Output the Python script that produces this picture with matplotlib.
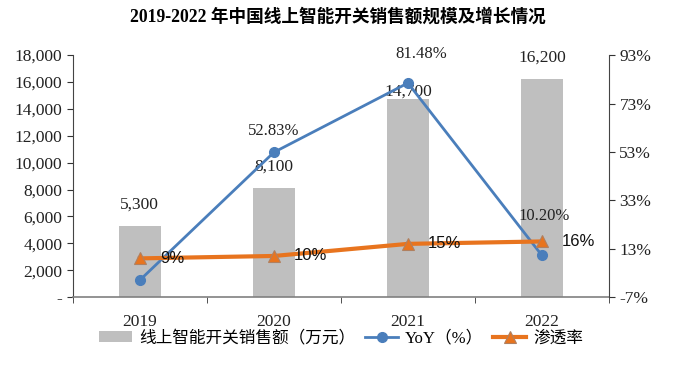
import matplotlib.pyplot as plt
import matplotlib.ticker as mticker
from matplotlib.lines import Line2D
from matplotlib.patches import Patch

years = ['2019', '2020', '2021', '2022']
sales = [5300, 8100, 14700, 16200]          # 线上智能开关销售额（万元）
yoy = [0.0, 52.83, 81.48, 10.20]            # YoY (%)
yoy_labels = ['', '52.83%', '81.48%', '10.20%']
penetration = [9, 10, 15, 16]               # 渗透率 (%)

# label placement tweaks (data units)
sales_lift = [1000, 1000, 0, 1000]
yoy_lift = [0, 5.4, 8.7, 13.2]
yoy_shift = [0, 0, 0.1, 0.02]

serif = ['Liberation Serif', 'Noto Sans CJK SC']
bar_color = '#bfbfbf'
blue = '#4a7ebb'
orange = '#e8741e'

fig = plt.figure(figsize=(7, 3.65), dpi=100)
ax = fig.add_axes((0.104, 0.186, 0.766, 0.663))
x = list(range(len(years)))

ax.bar(x, sales, width=0.31, color=bar_color, zorder=1)
for xi, v, d in zip(x, sales, sales_lift):
    ax.text(xi, v + d, f'{v:,}', ha='center', va='bottom', fontsize=12.5,
            family=serif, color='#222222')

ax.set_xlim(-0.5, 3.5)
ax.set_ylim(0, 18000)
ax.yaxis.set_major_locator(mticker.MultipleLocator(2000))
ax.yaxis.set_major_formatter(mticker.FuncFormatter(lambda v, p: '-' if v == 0 else f'{int(v):,}'))
ax.set_xticks(x)
ax.set_xticklabels(years)
ax.set_xticks([-0.5, 0.5, 1.5, 2.5, 3.5], minor=True)
ax.tick_params(axis='x', which='major', length=0, pad=12)
ax.tick_params(axis='x', which='minor', length=4, color='#333333')
ax.tick_params(axis='y', length=4, color='#333333')
for lab in ax.get_xticklabels() + ax.get_yticklabels():
    lab.set_family(serif)
    lab.set_fontsize(12.5)
    lab.set_color('#222222')
ax.spines['top'].set_visible(False)
ax.spines['right'].set_visible(False)
ax.spines['bottom'].set_color('#808080')
ax.spines['bottom'].set_linewidth(1.2)
ax.spines['left'].set_color('#444444')

ax2 = ax.twinx()
ax2.set_ylim(-7, 93)
ax2.yaxis.set_major_locator(mticker.FixedLocator([-7, 13, 33, 53, 73, 93]))
ax2.yaxis.set_major_formatter(mticker.FuncFormatter(lambda v, p: f'{int(round(v))}%'))
ax2.tick_params(axis='y', length=4, color='#333333')
for lab in ax2.get_yticklabels():
    lab.set_family(serif)
    lab.set_fontsize(12.5)
    lab.set_color('#222222')
for s in ['top', 'left', 'bottom']:
    ax2.spines[s].set_visible(False)
ax2.spines['right'].set_color('#444444')

ax2.plot(x, yoy, color=blue, lw=2, marker='o', ms=7, zorder=3)
for xi, v, lab, d, s in zip(x, yoy, yoy_labels, yoy_lift, yoy_shift):
    if lab:
        ax2.text(xi + s, v + d, lab, ha='center', va='bottom', fontsize=12,
                 family=serif, color='#222222', clip_on=False)

ax2.plot(x, penetration, color=orange, lw=3, marker='^', ms=9,
         markeredgecolor='#b08060', markeredgewidth=0.8, zorder=4)
for xi, v in zip(x, penetration):
    ax2.text(xi + 0.15, v, f'{v}%', ha='left', va='center', fontsize=12,
             family=['Liberation Sans'], color='#111111', zorder=5)

fig.text(0.482, 0.953, '2019-2022 年中国线上智能开关销售额规模及增长情况',
         ha='center', va='center', fontsize=12.7, fontweight='bold', family=serif)

handles = [
    Patch(facecolor=bar_color, edgecolor='none'),
    Line2D([], [], color=blue, lw=2, marker='o', ms=7),
    Line2D([], [], color=orange, lw=3, marker='^', ms=9,
           markeredgecolor='#b08060', markeredgewidth=0.8),
]
labels = ['线上智能开关销售额（万元）', 'YoY（%）', '渗透率']
fig.legend(handles, labels, loc='center', bbox_to_anchor=(0.487, 0.073), ncol=3,
           frameon=False, prop={'family': serif, 'size': 12},
           handlelength=2.0, columnspacing=0.6, handletextpad=0.4)

fig.savefig('out.png', dpi=100)
